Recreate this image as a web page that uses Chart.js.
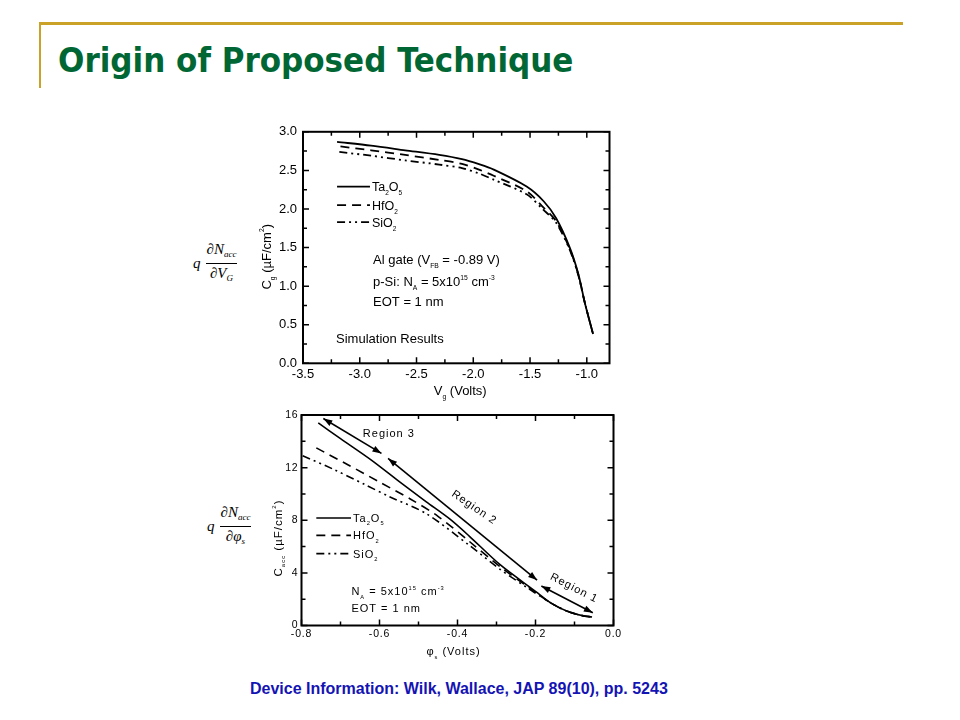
<!DOCTYPE html>
<html>
<head>
<meta charset="utf-8">
<script src="https://cdn.jsdelivr.net/npm/chart.js@4.4.0/dist/chart.umd.min.js"></script>
<style>
  body { margin: 0; background: #fff; width: 960px; height: 720px; position: relative; overflow: hidden; font-family: "Liberation Sans", Arial, sans-serif; }
  #hrule { position: absolute; left: 40px; top: 22px; width: 863px; height: 3px; background: #c9a227; }
  #vrule { position: absolute; left: 39px; top: 22px; width: 2px; height: 66px; background: #c9a227; }
  h1 { position: absolute; left: 58px; top: 40px; margin: 0; font: bold 34.5px "DejaVu Sans Condensed", "DejaVu Sans", sans-serif; color: #006633; white-space: nowrap; }
  .panel { position: absolute; }
  .math { position: absolute; font: italic 15px "Liberation Serif", serif; color: #000; display: flex; align-items: center; }
  .math .frac { display: inline-flex; flex-direction: column; align-items: center; margin-left: 5px; }
  .math .num { border-bottom: 1px solid #000; padding: 0 1px 1px 1px; line-height: 16px; }
  .math .den { line-height: 16px; padding-top: 1px; }
  .math sub { font-size: 9px; vertical-align: -3px; }
  #foot { position: absolute; left: 250px; top: 680px; font: bold 16px "Liberation Sans", Arial, sans-serif; color: #1414b4; white-space: nowrap; }
</style>
</head>
<body>
<div id="hrule"></div>
<div id="vrule"></div>
<h1>Origin of Proposed Technique</h1>

<div class="math" style="left:193px; top:241px;"><span>q</span><span class="frac"><span class="num">∂N<sub>acc</sub></span><span class="den">∂V<sub>G</sub></span></span></div>
<div class="math" style="left:207px; top:504px;"><span>q</span><span class="frac"><span class="num">∂N<sub>acc</sub></span><span class="den">∂φ<sub>s</sub></span></span></div>

<div class="panel" style="left:250px; top:118px; width:370px; height:285px;"><canvas id="top" width="370" height="285"></canvas></div>
<div class="panel" style="left:250px; top:405px; width:375px; height:255px;"><canvas id="bottom" width="375" height="255"></canvas></div>

<div id="foot">Device Information: Wilk, Wallace, JAP 89(10), pp. 5243</div>

<script>
// ---- top panel: Cg vs Vg (simulation) ----
const vgTa = [-3.2, -2.9, -2.6, -2.3, -2.1, -1.95, -1.82, -1.53, -1.38, -1.27, -1.15, -1.075, -1.015, -0.945];
const cgTa = [2.87, 2.82, 2.76, 2.70, 2.645, 2.58, 2.51, 2.29, 2.10, 1.88, 1.50, 1.16, 0.77, 0.38];
const vgHf = [-3.17, -2.9, -2.6, -2.3, -2.1, -1.95, -1.82, -1.53, -1.39, -1.27, -1.15, -1.075, -1.015, -0.945];
const cgHf = [2.81, 2.76, 2.70, 2.635, 2.585, 2.51, 2.43, 2.23, 2.03, 1.84, 1.48, 1.15, 0.77, 0.38];
const vgSi = [-3.18, -2.9, -2.6, -2.3, -2.1, -1.95, -1.82, -1.53, -1.39, -1.27, -1.15, -1.075, -1.015, -0.945];
const cgSi = [2.74, 2.69, 2.63, 2.575, 2.53, 2.46, 2.38, 2.19, 2.00, 1.82, 1.47, 1.14, 0.77, 0.38];
const topXTicks = [-3.5, -3.0, -2.5, -2.0, -1.5, -1.0];
const topXMinor = [-3.25, -2.75, -2.25, -1.75, -1.25];
const topYTicks = [0, 0.5, 1.0, 1.5, 2.0, 2.5, 3.0];
const topYMinor = [0.25, 0.75, 1.25, 1.75, 2.25, 2.75];

// ---- bottom panel: Cacc vs phi_s ----
const psTa = [-0.757, -0.70, -0.62, -0.55, -0.48, -0.42, -0.37, -0.29, -0.20, -0.16, -0.12, -0.08, -0.055];
const caTa = [15.4, 14.2, 12.55, 10.95, 9.4, 8.1, 6.8, 4.6, 2.6, 1.7, 1.1, 0.75, 0.65];
const psHf = [-0.762, -0.68, -0.60, -0.52, -0.45, -0.37, -0.29, -0.22, -0.16, -0.12, -0.08, -0.055];
const caHf = [13.5, 12.2, 10.9, 9.6, 8.3, 6.4, 4.45, 2.95, 1.7, 1.1, 0.75, 0.65];
const psSi = [-0.797, -0.72, -0.64, -0.575, -0.48, -0.37, -0.29, -0.22, -0.16, -0.12, -0.08, -0.055];
const caSi = [12.9, 11.9, 10.75, 9.8, 8.5, 6.1, 4.25, 2.85, 1.7, 1.1, 0.75, 0.65];
const botXTicks = [-0.8, -0.6, -0.4, -0.2, 0.0];
const botXMinor = [-0.7, -0.5, -0.3, -0.1];
const botYTicks = [0, 4, 8, 12, 16];
const botYMinor = [2, 6, 10, 14];

// region arrows (data coords of both ends) and their labels
const regionNames = ['Region 3', 'Region 2', 'Region 1'];
const arrowX0 = [-0.744, -0.578, -0.185];
const arrowY0 = [15.73, 12.70, 3.0];
const arrowX1 = [-0.595, -0.196, -0.053];
const arrowY1 = [13.08, 3.45, 0.97];
const regionLabelX = [-0.576, -0.356, -0.100];
const regionLabelY = [14.62, 9.02, 2.90];

const seriesNames = ['Ta2O5', 'HfO2', 'SiO2'];

const pts = (xs, ys) => xs.map((x, i) => ({ x: x, y: ys[i] }));
const dashes = [[], [9, 6], [8, 4, 2, 4, 2, 4]];
const legendParts = [
  [['Ta', ''], ['2', 'b'], ['O', ''], ['5', 'b']],
  [['HfO', ''], ['2', 'b']],
  [['SiO', ''], ['2', 'b']]
];

// draw text made of normal / sub ('b') / sup ('p') pieces, y = vertical centre of caps
function rich(ctx, parts, x, y, size, align, family) {
  family = family || '"Liberation Sans", Arial, sans-serif';
  const segs = parts.map(([t, k]) => {
    const s = k ? size * 0.52 : size;
    ctx.font = s + 'px ' + family;
    return { t: t, k: k, s: s, w: ctx.measureText(t).width };
  });
  const total = segs.reduce((a, g) => a + g.w, 0);
  let cx = align === 'center' ? x - total / 2 : x;
  const base = y + size * 0.36;
  ctx.textAlign = 'left';
  ctx.textBaseline = 'alphabetic';
  segs.forEach(g => {
    ctx.font = g.s + 'px ' + family;
    const dy = g.k === 'b' ? size * 0.32 : (g.k === 'p' ? -size * 0.48 : 0);
    ctx.fillText(g.t, cx, base + dy);
    cx += g.w;
  });
}

function frame(chart, xMaj, xMin, yMaj, yMin) {
  const { ctx, chartArea: a, scales: { x, y } } = chart;
  ctx.save();
  ctx.strokeStyle = '#000';
  ctx.setLineDash([]);
  ctx.lineWidth = 2;
  ctx.strokeRect(a.left, a.top, a.right - a.left, a.bottom - a.top);
  ctx.lineWidth = 1.5;
  ctx.beginPath();
  const xt = (v, len) => {
    const p = x.getPixelForValue(v);
    ctx.moveTo(p, a.bottom); ctx.lineTo(p, a.bottom - len);
    ctx.moveTo(p, a.top); ctx.lineTo(p, a.top + len);
  };
  const yt = (v, len) => {
    const p = y.getPixelForValue(v);
    ctx.moveTo(a.left, p); ctx.lineTo(a.left + len, p);
    ctx.moveTo(a.right, p); ctx.lineTo(a.right - len, p);
  };
  xMaj.forEach(v => xt(v, 6)); xMin.forEach(v => xt(v, 4));
  yMaj.forEach(v => yt(v, 6)); yMin.forEach(v => yt(v, 4));
  ctx.stroke();
  ctx.restore();
}

function legend(chart, x0, x1, ys, size) {
  const { ctx, scales: { x, y } } = chart;
  ctx.save();
  ctx.strokeStyle = '#000';
  ctx.fillStyle = '#000';
  ctx.lineWidth = 1.6;
  const p0 = x.getPixelForValue(x0), p1 = x.getPixelForValue(x1);
  ys.forEach((v, i) => {
    const py = y.getPixelForValue(v);
    ctx.setLineDash(dashes[i]);
    ctx.beginPath(); ctx.moveTo(p0, py); ctx.lineTo(p1, py); ctx.stroke();
    ctx.setLineDash([]);
    rich(ctx, legendParts[i], p1 + 2, py, size, 'left');
  });
  ctx.restore();
}

function arrowHead(ctx, xt, yt, xf, yf) {
  const ang = Math.atan2(yt - yf, xt - xf);
  const L = 9, W = 3.2;
  ctx.beginPath();
  ctx.moveTo(xt, yt);
  ctx.lineTo(xt - L * Math.cos(ang) + W * Math.sin(ang), yt - L * Math.sin(ang) - W * Math.cos(ang));
  ctx.lineTo(xt - L * Math.cos(ang) - W * Math.sin(ang), yt - L * Math.sin(ang) + W * Math.cos(ang));
  ctx.closePath();
  ctx.fill();
}

const lineDataset = (label, data, i, w) => ({
  label: label,
  data: data,
  showLine: true,
  borderColor: '#000',
  borderWidth: w,
  borderDash: dashes[i],
  pointRadius: 0,
  tension: 0.3,
  fill: false
});

const tickFont = (s) => ({ family: '"Liberation Sans", Arial, sans-serif', size: s });
const noGrid = { display: false, drawTicks: false, tickLength: 0 };

// ---------- top chart ----------
new Chart(document.getElementById('top'), {
  type: 'scatter',
  data: {
    datasets: [
      lineDataset(seriesNames[0], pts(vgTa, cgTa), 0, 1.8),
      lineDataset(seriesNames[1], pts(vgHf, cgHf), 1, 1.8),
      lineDataset(seriesNames[2], pts(vgSi, cgSi), 2, 1.8)
    ]
  },
  options: {
    responsive: false,
    animation: false,
    events: [],
    layout: { padding: { left: 0, top: 12, right: 10.5, bottom: 9.7 } },
    plugins: { legend: { display: false }, tooltip: { enabled: false } },
    scales: {
      x: {
        type: 'linear', min: -3.5, max: -0.8,
        afterBuildTicks: s => { s.ticks = topXTicks.map(v => ({ value: v })); },
        afterFit: s => { s.height = 30; },
        grid: noGrid, border: { display: false },
        ticks: { color: '#000', font: tickFont(13), padding: 3, maxRotation: 0, autoSkip: false, callback: v => v.toFixed(1) }
      },
      y: {
        type: 'linear', min: 0, max: 3.0,
        afterBuildTicks: s => { s.ticks = topYTicks.map(v => ({ value: v })); },
        afterFit: s => { s.width = 53; },
        grid: noGrid, border: { display: false },
        ticks: { color: '#000', font: tickFont(13), padding: 6, autoSkip: false, callback: v => v.toFixed(1) }
      }
    }
  },
  plugins: [{
    id: 'decorTop',
    afterDraw(chart) {
      const { ctx, chartArea: a, scales: { x, y } } = chart;
      frame(chart, topXTicks, topXMinor, topYTicks, topYMinor);
      legend(chart, -3.20, -2.91, [2.29, 2.05, 1.83], 12.5);
      ctx.save();
      ctx.fillStyle = '#000';
      const lx = x.getPixelForValue(-2.883);
      rich(ctx, [['Al gate (V', ''], ['FB', 'b'], [' = -0.89 V)', '']], lx, y.getPixelForValue(1.353), 13, 'left');
      rich(ctx, [['p-Si: N', ''], ['A', 'b'], [' = 5x10', ''], ['15', 'p'], [' cm', ''], ['-3', 'p']], lx, y.getPixelForValue(1.058), 13, 'left');
      rich(ctx, [['EOT = 1 nm', '']], lx, y.getPixelForValue(0.80), 13, 'left');
      rich(ctx, [['Simulation Results', '']], x.getPixelForValue(-3.209), y.getPixelForValue(0.325), 13, 'left');
      // axis titles
      rich(ctx, [['V', ''], ['g', 'b'], [' (Volts)', '']], (a.left + a.right) / 2 + 4, a.bottom + 27, 13, 'center');
      ctx.translate(a.left - 37, a.top + 125);
      ctx.rotate(-Math.PI / 2);
      rich(ctx, [['C', ''], ['g', 'b'], [' (µF/cm', ''], ['2', 'p'], [')', '']], 0, 0, 13, 'center');
      ctx.restore();
    }
  }]
});

// ---------- bottom chart ----------
new Chart(document.getElementById('bottom'), {
  type: 'scatter',
  data: {
    datasets: [
      lineDataset(seriesNames[0], pts(psTa, caTa), 0, 1.6),
      lineDataset(seriesNames[1], pts(psHf, caHf), 1, 1.6),
      lineDataset(seriesNames[2], pts(psSi, caSi), 2, 1.6)
    ]
  },
  options: {
    responsive: false,
    animation: false,
    events: [],
    layout: { padding: { left: 0, top: 10, right: 11.5, bottom: 8.5 } },
    plugins: { legend: { display: false }, tooltip: { enabled: false } },
    scales: {
      x: {
        type: 'linear', min: -0.8, max: 0.0,
        afterBuildTicks: s => { s.ticks = botXTicks.map(v => ({ value: v })); },
        afterFit: s => { s.height = 26; },
        grid: noGrid, border: { display: false },
        ticks: { color: '#000', font: tickFont(10.5), padding: 2, maxRotation: 0, autoSkip: false, callback: v => v.toFixed(1) }
      },
      y: {
        type: 'linear', min: 0, max: 16,
        afterBuildTicks: s => { s.ticks = botYTicks.map(v => ({ value: v })); },
        afterFit: s => { s.width = 51.5; },
        grid: noGrid, border: { display: false },
        ticks: { color: '#000', font: tickFont(10.5), padding: 3, autoSkip: false, callback: v => String(v) }
      }
    }
  },
  plugins: [{
    id: 'decorBottom',
    beforeDraw(chart) { chart.ctx.letterSpacing = '0.8px'; },
    afterDraw(chart) {
      const { ctx, chartArea: a, scales: { x, y } } = chart;
      frame(chart, botXTicks, botXMinor, botYTicks, botYMinor);
      ctx.save();
      ctx.letterSpacing = '1px';
      legend(chart, -0.762, -0.673, [8.17, 6.85, 5.46], 11);
      ctx.fillStyle = '#000';
      ctx.strokeStyle = '#000';
      ctx.lineWidth = 1.6;
      // region arrows
      regionNames.forEach((name, i) => {
        const xa = x.getPixelForValue(arrowX0[i]), ya = y.getPixelForValue(arrowY0[i]);
        const xb = x.getPixelForValue(arrowX1[i]), yb = y.getPixelForValue(arrowY1[i]);
        ctx.beginPath(); ctx.moveTo(xa, ya); ctx.lineTo(xb, yb); ctx.stroke();
        arrowHead(ctx, xa, ya, xb, yb);
        arrowHead(ctx, xb, yb, xa, ya);
      });
      const angles = [0, 34, 27];
      regionNames.forEach((name, i) => {
        ctx.save();
        ctx.translate(x.getPixelForValue(regionLabelX[i]), y.getPixelForValue(regionLabelY[i]));
        ctx.rotate(angles[i] * Math.PI / 180);
        rich(ctx, [[name, '']], 0, 0, 11, 'center');
        ctx.restore();
      });
      const lx = x.getPixelForValue(-0.672);
      rich(ctx, [['N', ''], ['A', 'b'], [' = 5x10', ''], ['15', 'p'], [' cm', ''], ['-3', 'p']], lx, y.getPixelForValue(2.6), 11, 'left');
      rich(ctx, [['EOT = 1 nm', '']], lx, y.getPixelForValue(1.29), 11, 'left');
      // axis titles
      rich(ctx, [['φ', ''], ['s', 'b'], [' (Volts)', '']], (a.left + a.right) / 2 - 4, a.bottom + 26, 11, 'center');
      ctx.translate(a.left - 24, a.top + 123);
      ctx.rotate(-Math.PI / 2);
      rich(ctx, [['C', ''], ['acc', 'b'], [' (µF/cm', ''], ['2', 'p'], [')', '']], 0, 0, 11.5, 'center');
      ctx.restore();
    }
  }]
});
</script>
</body>
</html>
